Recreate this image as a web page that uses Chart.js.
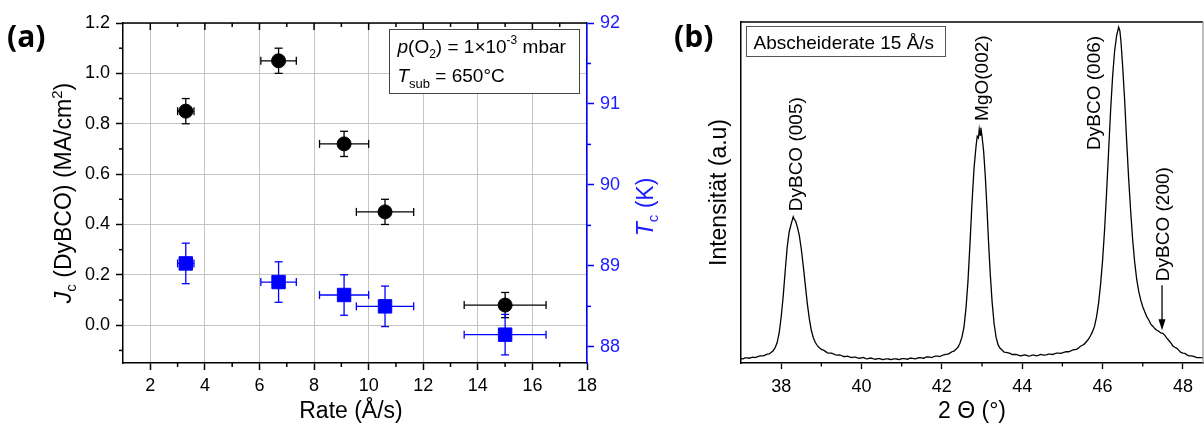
<!DOCTYPE html>
<html>
<head>
<meta charset="utf-8">
<script src="https://cdn.jsdelivr.net/npm/chart.js@4.4.1/dist/chart.umd.min.js"></script>
<style>
    html, body { margin: 0; padding: 0; background: #fff; }
    #wrap { position: relative; width: 1204px; height: 425px; overflow: hidden; }
    #chartA { position: absolute; left: 0; top: 0; }
    #chartB { position: absolute; left: 660px; top: 0; }
</style>
</head>
<body>
<div id="wrap">
    <canvas id="chartA" width="680" height="425"></canvas>
    <canvas id="chartB" width="544" height="425"></canvas>
</div>
<script>
// ==================== DATOS ====================
// (a) Jc und Tc gegen Abscheiderate
const RATE = [3.3, 6.7, 9.1, 10.6, 15.0];
const RATE_ERR = [0.3, 0.65, 0.9, 1.05, 1.5];
const JC = [0.85, 1.05, 0.72, 0.45, 0.08];
const JC_ERR = [0.05, 0.05, 0.05, 0.05, 0.05];
const TC = [89.03, 88.80, 88.64, 88.50, 88.15];
const TC_ERR = [0.25, 0.25, 0.25, 0.25, 0.25];

const RATE_TICKS = [2, 4, 6, 8, 10, 12, 14, 16, 18];
const RATE_MINOR = [3, 5, 7, 9, 11, 13, 15, 17];
const JC_TICKS = [0, 0.2, 0.4, 0.6, 0.8, 1.0, 1.2];
const JC_MINOR = [-0.1, 0.1, 0.3, 0.5, 0.7, 0.9, 1.1];
const TC_TICKS = [88, 89, 90, 91, 92];
const TC_MINOR = [88.5, 89.5, 90.5, 91.5];

// (b) XRD-Scan, Abscheiderate 15 Å/s: [2Θ, Intensität] (relativ, 0..100 = Rahmenhöhe)
const XRD_SCAN = [
    [37.0, 1.3], [37.05, 1.2], [37.1, 1.5], [37.15, 1.5], [37.2, 1.4], [37.25, 1.6], [37.3, 1.7],
    [37.35, 1.6], [37.4, 1.8], [37.45, 2.0], [37.5, 2.1], [37.55, 2.1], [37.6, 2.3], [37.65, 2.6],
    [37.7, 2.7], [37.75, 3.1], [37.8, 3.6], [37.85, 4.5], [37.9, 6.0], [37.95, 8.8],
    [38.0, 13.5], [38.05, 19.5], [38.1, 27.0], [38.15, 34.0], [38.2, 38.5], [38.25, 40.8],
    [38.3, 42.9], [38.33, 42.0], [38.36, 41.6], [38.4, 40.0], [38.45, 37.5], [38.5, 33.5],
    [38.55, 28.5], [38.6, 23.0], [38.65, 17.5], [38.7, 13.0], [38.75, 9.6], [38.8, 7.4],
    [38.85, 6.0], [38.9, 5.1], [38.95, 4.5], [39.0, 4.0], [39.05, 3.8], [39.1, 3.4],
    [39.15, 3.0], [39.2, 2.9], [39.25, 2.9], [39.3, 2.7], [39.35, 2.4], [39.4, 2.3],
    [39.45, 2.4], [39.5, 2.2], [39.55, 1.9], [39.6, 1.9], [39.65, 2.0], [39.7, 1.8],
    [39.75, 1.6], [39.8, 1.7], [39.85, 1.7], [39.9, 1.5], [39.95, 1.4], [40.0, 1.5],
    [40.05, 1.6], [40.1, 1.3], [40.15, 1.2], [40.2, 1.4], [40.25, 1.4], [40.3, 1.2],
    [40.35, 1.1], [40.4, 1.3], [40.45, 1.3], [40.5, 1.1], [40.55, 1.0], [40.6, 1.2],
    [40.65, 1.2], [40.7, 1.1], [40.75, 1.0], [40.8, 1.2], [40.85, 1.2], [40.9, 1.1],
    [40.95, 1.0], [41.0, 1.3], [41.05, 1.3], [41.1, 1.2], [41.15, 1.1], [41.2, 1.4],
    [41.25, 1.4], [41.3, 1.3], [41.35, 1.2], [41.4, 1.5], [41.45, 1.6], [41.5, 1.5],
    [41.55, 1.4], [41.6, 1.7], [41.65, 1.8], [41.7, 1.7], [41.75, 1.6], [41.8, 1.9],
    [41.85, 2.0], [41.9, 2.0], [41.95, 1.9], [42.0, 2.2], [42.05, 2.4], [42.1, 2.5],
    [42.15, 2.6], [42.2, 2.9], [42.25, 3.3], [42.3, 3.5], [42.35, 4.0], [42.4, 4.6],
    [42.45, 5.8], [42.5, 7.6], [42.55, 10.5], [42.6, 16.0], [42.65, 24.0], [42.7, 35.0],
    [42.75, 47.0], [42.8, 57.0], [42.85, 63.5], [42.88, 66.5], [42.91, 66.0], [42.93, 68.5],
    [42.95, 66.8], [42.97, 69.0], [43.0, 66.5], [43.04, 62.0], [43.08, 55.0], [43.12, 46.0],
    [43.16, 36.0], [43.2, 27.0], [43.25, 18.0], [43.3, 11.5], [43.35, 7.5], [43.4, 5.3],
    [43.45, 4.3], [43.5, 3.8], [43.55, 3.2], [43.6, 3.1], [43.65, 3.0], [43.7, 2.8],
    [43.75, 2.5], [43.8, 2.5], [43.85, 2.5], [43.9, 2.3], [43.95, 2.1], [44.0, 2.2],
    [44.05, 2.4], [44.1, 2.3], [44.15, 2.0], [44.2, 2.1], [44.25, 2.3], [44.3, 2.3],
    [44.35, 2.1], [44.4, 2.2], [44.45, 2.5], [44.5, 2.4], [44.55, 2.3], [44.6, 2.4],
    [44.65, 2.6], [44.7, 2.6], [44.75, 2.5], [44.8, 2.7], [44.85, 2.9], [44.9, 2.9],
    [44.95, 2.8], [45.0, 3.0], [45.05, 3.2], [45.1, 3.3], [45.15, 3.3], [45.2, 3.5],
    [45.25, 3.8], [45.3, 3.9], [45.35, 4.0], [45.4, 4.4], [45.45, 4.9], [45.5, 5.2],
    [45.55, 5.6], [45.6, 6.3], [45.65, 7.0], [45.7, 8.0], [45.75, 9.2], [45.8, 10.8],
    [45.85, 13.5], [45.9, 17.5], [45.95, 23.0], [46.0, 30.0], [46.05, 39.0], [46.1, 50.0],
    [46.15, 62.0], [46.2, 74.0], [46.25, 84.0], [46.3, 91.5], [46.35, 96.0], [46.4, 98.5],
    [46.43, 97.5], [46.46, 94.0], [46.5, 87.0], [46.55, 77.0], [46.6, 65.0], [46.65, 54.0],
    [46.7, 44.5], [46.75, 36.0], [46.8, 29.5], [46.85, 24.5], [46.9, 21.0], [46.95, 18.5],
    [47.0, 16.5], [47.05, 15.0], [47.1, 13.6], [47.15, 12.6], [47.2, 11.4], [47.25, 10.8],
    [47.3, 10.1], [47.35, 9.6], [47.4, 9.3], [47.45, 8.8], [47.5, 8.7], [47.55, 8.1],
    [47.6, 7.3], [47.65, 6.6], [47.7, 5.9], [47.75, 5.0], [47.8, 4.6], [47.85, 4.3],
    [47.9, 3.7], [47.95, 3.1], [48.0, 2.9], [48.05, 2.8], [48.1, 2.4], [48.15, 2.1],
    [48.2, 2.1], [48.25, 2.0], [48.3, 1.8], [48.35, 1.6], [48.4, 1.6], [48.45, 1.6],
    [48.5, 1.5],
];
const TWO_THETA = XRD_SCAN.map(p => p[0]);
const INTENSITY = XRD_SCAN.map(p => p[1]);
const THETA_TICKS = [38, 40, 42, 44, 46, 48];
const THETA_MINOR = [39, 41, 43, 45, 47];

const PEAK_LABELS = ['DyBCO (005)', 'MgO(002)', 'DyBCO (006)', 'DyBCO (200)'];

// ==================== ESTILO ====================
const FONT = "'Liberation Sans', Arial, sans-serif";
const BLUE = '#0000ff';
const BLUE_TXT = '#1a1aff';
const GRID = '#c4c4c4';

// Posición de las etiquetas de picos (coordenadas de datos: 2Θ, intensidad donde empieza el texto)
const PEAK_ANCHORS = [
    { x: 38.38, y: 44.5 },
    { x: 43.03, y: 71.0 },
    { x: 45.81, y: 62.5 },
    { x: 47.52, y: 24.0 },
];
const ARROW = { x: 47.48, from: 22.8, to: 9.6 };

Chart.defaults.font.family = FONT;
Chart.defaults.color = '#000';

function linea(ctx, x0, y0, x1, y1) {
    ctx.beginPath();
    ctx.moveTo(x0, y0);
    ctx.lineTo(x1, y1);
    ctx.stroke();
}

// texto con sub/superíndices; partes: {t, f, dy}
function textoRico(ctx, partes, x, y, { rotar = false, alinear = 'center', color = '#000', base = 'alphabetic' } = {}) {
    ctx.save();
    ctx.translate(x, y);
    if (rotar) ctx.rotate(-Math.PI / 2);
    ctx.fillStyle = color;
    ctx.textBaseline = base;
    ctx.textAlign = 'left';
    let ancho = 0;
    partes.forEach(p => { ctx.font = p.f; ancho += ctx.measureText(p.t).width; });
    let cx = alinear === 'center' ? -ancho / 2 : 0;
    partes.forEach(p => {
        ctx.font = p.f;
        ctx.fillText(p.t, cx, p.dy || 0);
        cx += ctx.measureText(p.t).width;
    });
    ctx.restore();
}

const errorBars = {
    id: 'errorBars',
    beforeDatasetsDraw(chart) {
        const ctx = chart.ctx;
        const sx = chart.scales.x;
        chart.data.datasets.forEach(ds => {
            if (!ds.errX) return;
            const sy = chart.scales[ds.yAxisID];
            ctx.save();
            ctx.strokeStyle = ds.errColor;
            ctx.lineWidth = 1.3;
            const c = 4;
            ds.data.forEach((p, k) => {
                const x = sx.getPixelForValue(p.x), y = sy.getPixelForValue(p.y);
                const x0 = sx.getPixelForValue(p.x - ds.errX[k]), x1 = sx.getPixelForValue(p.x + ds.errX[k]);
                const y0 = sy.getPixelForValue(p.y - ds.errY[k]), y1 = sy.getPixelForValue(p.y + ds.errY[k]);
                linea(ctx, x0, y, x1, y);
                linea(ctx, x0, y - c, x0, y + c);
                linea(ctx, x1, y - c, x1, y + c);
                linea(ctx, x, y0, x, y1);
                linea(ctx, x - c, y0, x + c, y0);
                linea(ctx, x - c, y1, x + c, y1);
            });
            ctx.restore();
        });
    },
};

const marcoA = {
    id: 'marcoA',
    afterDraw(chart) {
        const ctx = chart.ctx;
        const ca = chart.chartArea;
        const sx = chart.scales.x, sy = chart.scales.y, sy1 = chart.scales.y1;
        ctx.save();
        ctx.strokeStyle = '#000';
        ctx.lineWidth = 1.5;
        linea(ctx, ca.left, ca.top, ca.right, ca.top);
        RATE_TICKS.slice(0, -1).forEach(v => { const px = sx.getPixelForValue(v); linea(ctx, px, ca.top, px, ca.top + 7); });
        RATE_MINOR.forEach(v => {
            const px = sx.getPixelForValue(v);
            linea(ctx, px, ca.top, px, ca.top + 4);
            linea(ctx, px, ca.bottom, px, ca.bottom + 4);
        });
        JC_MINOR.forEach(v => { const py = sy.getPixelForValue(v); linea(ctx, ca.left - 4, py, ca.left, py); });
        ctx.strokeStyle = BLUE;
        TC_MINOR.forEach(v => { const py = sy1.getPixelForValue(v); linea(ctx, ca.right, py, ca.right + 4, py); });

        // títulos de ejes
        const midY = (ca.top + ca.bottom) / 2;
        ctx.fillStyle = '#000';
        ctx.font = `23px ${FONT}`;
        ctx.textAlign = 'center';
        ctx.textBaseline = 'alphabetic';
        ctx.fillText('Rate (Å/s)', (ca.left + ca.right) / 2 - 4, 418);
        textoRico(ctx, [
            { t: 'J', f: `italic 23px ${FONT}` },
            { t: 'c', f: `15px ${FONT}`, dy: 5 },
            { t: ' (DyBCO) (MA/cm', f: `23px ${FONT}` },
            { t: '2', f: `15px ${FONT}`, dy: -9 },
            { t: ')', f: `23px ${FONT}` },
        ], ca.left - 52, midY, { rotar: true });
        textoRico(ctx, [
            { t: 'T', f: `italic 23px ${FONT}` },
            { t: 'c', f: `15px ${FONT}`, dy: 5 },
            { t: ' (K)', f: `23px ${FONT}` },
        ], ca.right + 66, midY + 14, { rotar: true, color: BLUE_TXT });

        // letra del panel
        ctx.font = `bold 30px 'Open Sans', ${FONT}`;
        ctx.textAlign = 'left';
        ctx.textBaseline = 'middle';
        ctx.fillStyle = '#000';
        ctx.fillText('(a)', 7, 38);

        // cuadro de condiciones
        const bx = 389.5, by = 29.5, bw = 190, bh = 64;
        ctx.fillStyle = '#fff';
        ctx.fillRect(bx, by, bw, bh);
        ctx.strokeStyle = '#444';
        ctx.lineWidth = 1;
        ctx.strokeRect(bx, by, bw, bh);
        textoRico(ctx, [
            { t: 'p', f: `italic 19px ${FONT}` },
            { t: '(O', f: `19px ${FONT}` },
            { t: '2', f: `12px ${FONT}`, dy: 5 },
            { t: ') = 1×10', f: `19px ${FONT}` },
            { t: '-3', f: `12px ${FONT}`, dy: -9 },
            { t: ' mbar', f: `19px ${FONT}` },
        ], bx + 8, 53, { alinear: 'left' });
        textoRico(ctx, [
            { t: 'T', f: `italic 19px ${FONT}` },
            { t: 'sub', f: `13px ${FONT}`, dy: 6 },
            { t: ' = 650°C', f: `19px ${FONT}` },
        ], bx + 8, 82, { alinear: 'left' });
        ctx.restore();
    },
};

const marcoB = {
    id: 'marcoB',
    afterDraw(chart) {
        const ctx = chart.ctx;
        const ca = chart.chartArea;
        const sx = chart.scales.x, sy = chart.scales.y;
        ctx.save();
        ctx.strokeStyle = '#000';
        ctx.lineWidth = 1.3;
        linea(ctx, ca.left, ca.top, ca.right, ca.top);
        ctx.strokeStyle = '#9a9a9a';
        linea(ctx, ca.right, ca.top, ca.right, ca.bottom);
        ctx.strokeStyle = '#000';
        THETA_MINOR.forEach(v => { const px = sx.getPixelForValue(v); linea(ctx, px, ca.bottom, px, ca.bottom + 3.5); });

        ctx.fillStyle = '#000';
        ctx.font = `23px ${FONT}`;
        ctx.textAlign = 'center';
        ctx.textBaseline = 'alphabetic';
        ctx.fillText('2 Θ (°)', (ca.left + ca.right) / 2, 418);
        textoRico(ctx, [{ t: 'Intensität (a.u)', f: `23px ${FONT}` }], ca.left - 15, (ca.top + ca.bottom) / 2, { rotar: true });

        ctx.font = `bold 30px 'Open Sans', ${FONT}`;
        ctx.textAlign = 'left';
        ctx.textBaseline = 'middle';
        ctx.fillText('(b)', ca.left - 67, 38);

        // cuadro
        const bx = ca.left + 5.5, by = ca.top + 4.5, bw = 199, bh = 30;
        ctx.fillStyle = '#fff';
        ctx.fillRect(bx, by, bw, bh);
        ctx.strokeStyle = '#555';
        ctx.lineWidth = 1;
        ctx.strokeRect(bx, by, bw, bh);
        ctx.fillStyle = '#000';
        ctx.font = `19px ${FONT}`;
        ctx.textBaseline = 'alphabetic';
        ctx.fillText('Abscheiderate 15 Å/s', bx + 7, by + 22);

        // etiquetas de picos
        ctx.font = `19px ${FONT}`;
        ctx.textBaseline = 'middle';
        PEAK_LABELS.forEach((txt, i) => {
            const a = PEAK_ANCHORS[i];
            ctx.save();
            ctx.translate(sx.getPixelForValue(a.x), sy.getPixelForValue(a.y));
            ctx.rotate(-Math.PI / 2);
            ctx.textAlign = 'left';
            ctx.fillText(txt, 0, 0);
            ctx.restore();
        });

        // flecha DyBCO (200)
        const ax = sx.getPixelForValue(ARROW.x);
        const ay0 = sy.getPixelForValue(ARROW.from), ay1 = sy.getPixelForValue(ARROW.to);
        ctx.strokeStyle = '#000';
        ctx.lineWidth = 1.3;
        linea(ctx, ax, ay0, ax, ay1 - 8);
        ctx.beginPath();
        ctx.moveTo(ax, ay1);
        ctx.lineTo(ax - 3.5, ay1 - 11);
        ctx.lineTo(ax + 3.5, ay1 - 11);
        ctx.closePath();
        ctx.fill();
        ctx.restore();
    },
};

const ejeComun = {
    type: 'linear',
    border: { color: '#000', width: 1.5 },
};

new Chart(document.getElementById('chartA'), {
    type: 'scatter',
    data: {
        datasets: [
            {
                label: 'Jc',
                yAxisID: 'y',
                data: RATE.map((r, i) => ({ x: r, y: JC[i] })),
                errX: RATE_ERR,
                errY: JC_ERR,
                errColor: '#000',
                pointStyle: 'circle',
                pointRadius: 7,
                backgroundColor: '#000',
                borderColor: '#000',
                borderWidth: 1,
            },
            {
                label: 'Tc',
                yAxisID: 'y1',
                data: RATE.map((r, i) => ({ x: r, y: TC[i] })),
                errX: RATE_ERR,
                errY: TC_ERR,
                errColor: BLUE,
                pointStyle: 'rect',
                pointRadius: 9.5,
                backgroundColor: BLUE,
                borderColor: BLUE,
                borderWidth: 1,
            },
        ],
    },
    options: {
        responsive: false,
        animation: false,
        devicePixelRatio: 1,
        layout: { padding: { top: 23, left: 0, right: 0, bottom: 0 } },
        plugins: { legend: { display: false }, tooltip: { enabled: false } },
        scales: {
            x: {
                ...ejeComun,
                min: 1, max: 18,
                afterBuildTicks: s => { s.ticks = RATE_TICKS.map(v => ({ value: v })); },
                afterFit: s => { s.height = 62; },
                grid: { color: GRID, lineWidth: 1, tickColor: '#000', tickLength: 7, tickWidth: 1.5 },
                ticks: { font: { size: 18 }, padding: 5, maxRotation: 0, autoSkip: false },
            },
            y: {
                ...ejeComun,
                position: 'left',
                min: -0.15, max: 1.2,
                afterBuildTicks: s => { s.ticks = JC_TICKS.map(v => ({ value: v })); },
                afterFit: s => { s.width = 123; },
                grid: { color: GRID, lineWidth: 1, tickColor: '#000', tickLength: 7, tickWidth: 1.5 },
                ticks: { font: { size: 18 }, padding: 6, callback: v => v.toFixed(1) },
            },
            y1: {
                type: 'linear',
                position: 'right',
                min: 87.8, max: 92,
                afterBuildTicks: s => { s.ticks = TC_TICKS.map(v => ({ value: v })); },
                afterFit: s => { s.width = 93; },
                border: { color: BLUE, width: 1.5 },
                grid: { drawOnChartArea: false, tickColor: BLUE, tickLength: 7, tickWidth: 1.5 },
                ticks: { color: BLUE_TXT, font: { size: 18 }, padding: 6 },
            },
        },
    },
    plugins: [errorBars, marcoA],
});

new Chart(document.getElementById('chartB'), {
    type: 'scatter',
    data: {
        datasets: [{
            label: 'XRD',
            data: TWO_THETA.map((t, i) => ({ x: t, y: INTENSITY[i] })),
            showLine: true,
            pointRadius: 0,
            borderColor: '#000',
            borderWidth: 1.3,
            tension: 0,
        }],
    },
    options: {
        responsive: false,
        animation: false,
        devicePixelRatio: 1,
        layout: { padding: { top: 22, left: 0, right: 1, bottom: 0 } },
        plugins: { legend: { display: false }, tooltip: { enabled: false } },
        scales: {
            x: {
                ...ejeComun,
                min: 37, max: 48.5,
                afterBuildTicks: s => { s.ticks = THETA_TICKS.map(v => ({ value: v })); },
                afterFit: s => { s.height = 62; },
                grid: { drawOnChartArea: false, tickColor: '#000', tickLength: 6, tickWidth: 1.3 },
                ticks: { font: { size: 18 }, padding: 7, maxRotation: 0, autoSkip: false },
            },
            y: {
                ...ejeComun,
                min: 0, max: 100,
                afterFit: s => { s.width = 81; },
                grid: { display: false },
                ticks: { display: false },
            },
        },
    },
    plugins: [marcoB],
});
</script>
</body>
</html>
